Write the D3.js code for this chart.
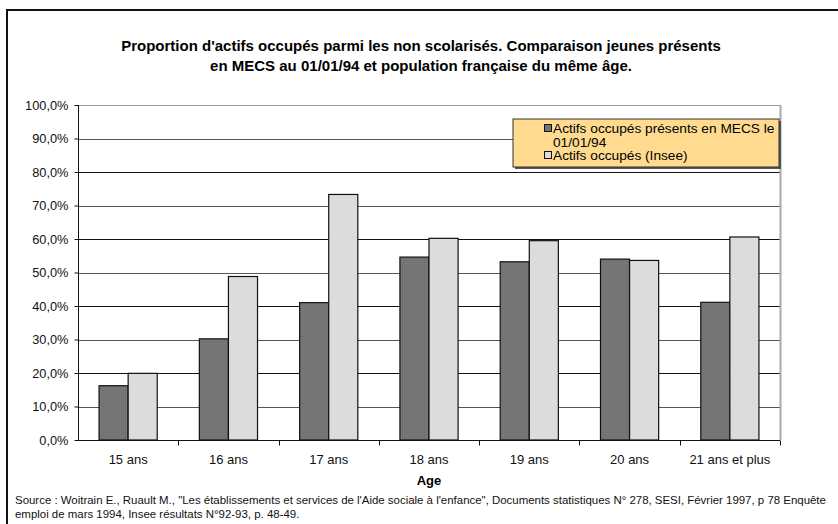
<!DOCTYPE html>
<html>
<head>
<meta charset="utf-8">
<script src="https://cdn.jsdelivr.net/npm/d3@7"></script>
<style>
  body { margin: 0; background: #fff; }
  svg { display: block; font-family: Arial, "Liberation Sans", sans-serif; }
</style>
</head>
<body>
<svg id="chart" width="838" height="524"></svg>
<script>
// data
var ages = ['15 ans', '16 ans', '17 ans', '18 ans', '19 ans', '20 ans', '21 ans et plus'];
var mecs = [16.2, 30.2, 41.0, 54.6, 53.2, 54.0, 41.1];
var insee = [19.9, 48.8, 73.3, 60.2, 59.5, 53.6, 60.6];
var seriesNames = ['Actifs occupés présents en MECS le 01/01/94', 'Actifs occupés (Insee)'];
var yTicks = [0, 10, 20, 30, 40, 50, 60, 70, 80, 90, 100];

var svg = d3.select('#chart');
var plot = { l: 78, r: 780, t: 105, b: 440 };

// outer frame
svg.append('rect')
    .attr('x', 7).attr('y', 10)
    .attr('width', 850).attr('height', 540)
    .style('fill', 'none')
    .style('stroke', '#111')
    .style('stroke-width', 2);

// title
var title = svg.append('text')
    .attr('text-anchor', 'middle')
    .style('font-size', '15px')
    .style('font-weight', 'bold');
title.append('tspan').attr('x', 421).attr('y', 51)
    .text("Proportion d'actifs occupés parmi les non scolarisés. Comparaison jeunes présents");
title.append('tspan').attr('x', 421).attr('y', 71)
    .text('en MECS au 01/01/94 et population française du même âge.');

var x0 = d3.scaleBand()
    .domain(ages)
    .range([plot.l, plot.r])
    .paddingInner(0.42)
    .paddingOuter(0.21);
var x1 = d3.scaleBand()
    .domain([0, 1])
    .range([0, x0.bandwidth()]);
var y = d3.scaleLinear().domain([0, 100]).range([plot.b, plot.t]);

// gridlines
svg.append('g').selectAll('line')
    .data(yTicks.slice(1))
    .enter().append('line')
    .attr('x1', plot.l).attr('x2', plot.r)
    .attr('y1', function (d) { return Math.round(y(d)) + 0.5; })
    .attr('y2', function (d) { return Math.round(y(d)) + 0.5; })
    .style('stroke', function (d) { return d === 100 ? '#999' : (d % 20 ? '#555' : '#111'); })
    .style('stroke-width', 1);

// right plot border
svg.append('line')
    .attr('x1', plot.r + 0.5).attr('x2', plot.r + 0.5)
    .attr('y1', plot.t).attr('y2', plot.b)
    .style('stroke', '#aaa').style('stroke-width', 2);

// dotted fill pattern for the dark series
var defs = svg.append('defs');
var pat = defs.append('pattern')
    .attr('id', 'dots')
    .attr('width', 2).attr('height', 2)
    .attr('patternUnits', 'userSpaceOnUse');
pat.append('rect').attr('width', 2).attr('height', 2).style('fill', '#787878');
pat.append('rect').attr('width', 1).attr('height', 1).style('fill', '#6a6a6a');

var fills = ['url(#dots)', '#dcdcdc'];
var swatchFills = ['#737373', '#dcdcdc'];

// bars
var rows = ages.map(function (a, i) { return { age: a, vals: [mecs[i], insee[i]] }; });
var groups = svg.append('g').selectAll('g')
    .data(rows)
    .enter().append('g')
    .attr('transform', function (d) { return 'translate(' + x0(d.age) + ',0)'; });
groups.selectAll('rect')
    .data(function (d) { return d.vals.map(function (v, s) { return { v: v, s: s }; }); })
    .enter().append('rect')
    .attr('x', function (d) { return x1(d.s); })
    .attr('y', function (d) { return y(d.v); })
    .attr('width', x1.bandwidth())
    .attr('height', function (d) { return plot.b - y(d.v); })
    .style('fill', function (d) { return fills[d.s]; })
    .style('stroke', '#111')
    .style('stroke-width', 1.2);

// y axis
var yAxis = d3.axisLeft(y)
    .tickValues(yTicks)
    .tickSize(4)
    .tickPadding(6)
    .tickFormat(function (d) { return d.toFixed(1).replace('.', ',') + '%'; });
var gy = svg.append('g')
    .attr('transform', 'translate(' + (plot.l + 0.5) + ',0)')
    .call(yAxis);
gy.select('.domain').attr('d', 'M0,' + plot.t + 'V' + plot.b).style('stroke', '#111');
gy.selectAll('.tick line').style('stroke', '#111');
gy.selectAll('text').style('font-size', '12.8px').style('fill', '#111')
    .style('font-family', 'Arial, "Liberation Sans", sans-serif');

// x axis
var xAxis = d3.axisBottom(x0).tickSize(0).tickPadding(14);
var gx = svg.append('g')
    .attr('transform', 'translate(0,' + (plot.b + 0.5) + ')')
    .call(xAxis);
gx.select('.domain').attr('d', 'M' + plot.l + ',0H' + plot.r).style('stroke', '#111');
gx.selectAll('text').style('font-size', '13px').style('fill', '#111')
    .style('font-family', 'Arial, "Liberation Sans", sans-serif');
// category separators
gx.append('g').selectAll('line')
    .data(d3.range(1, ages.length + 1))
    .enter().append('line')
    .attr('x1', function (i) { return Math.round(plot.l + i * (plot.r - plot.l) / ages.length) + 0.5; })
    .attr('x2', function (i) { return Math.round(plot.l + i * (plot.r - plot.l) / ages.length) + 0.5; })
    .attr('y1', 0).attr('y2', 5)
    .style('stroke', '#111');

svg.append('text')
    .attr('x', (plot.l + plot.r) / 2).attr('y', 485)
    .attr('text-anchor', 'middle')
    .style('font-size', '13px').style('font-weight', 'bold')
    .text('Age');

// legend
var lg = svg.append('g').attr('transform', 'translate(513,119)');
lg.append('rect')
    .attr('x', 2).attr('y', 2).attr('width', 266).attr('height', 48)
    .style('fill', '#555');
lg.append('rect')
    .attr('width', 266).attr('height', 48)
    .style('fill', '#ffda8f')
    .style('stroke', '#333').style('stroke-width', 1);
var legItems = [
    { lines: ['Actifs occupés présents en MECS le', '01/01/94'], y: 9 },
    { lines: ['Actifs occupés (Insee)'], y: 36 }
];
legItems.forEach(function (it, i) {
    lg.append('rect')
        .attr('x', 31.5).attr('y', it.y - 3.5)
        .attr('width', 7).attr('height', 7)
        .style('fill', swatchFills[i])
        .style('stroke', '#111');
    it.lines.forEach(function (t, k) {
        lg.append('text')
            .attr('x', 40).attr('y', it.y + 5 + k * 13.5)
            .style('font-size', '13.7px')
            .text(t);
    });
});

// source note
var src = svg.append('text')
    .style('font-size', '11.45px')
    .style('fill', '#111');
src.append('tspan').attr('x', 15).attr('y', 504)
    .text('Source : Woitrain E., Ruault M., "Les établissements et services de l\'Aide sociale à l\'enfance", Documents statistiques N° 278, SESI, Février 1997, p 78 Enquête');
src.append('tspan').attr('x', 15).attr('y', 518)
    .text('emploi de mars 1994, Insee résultats N°92-93,  p. 48-49.');
</script>
</body>
</html>
